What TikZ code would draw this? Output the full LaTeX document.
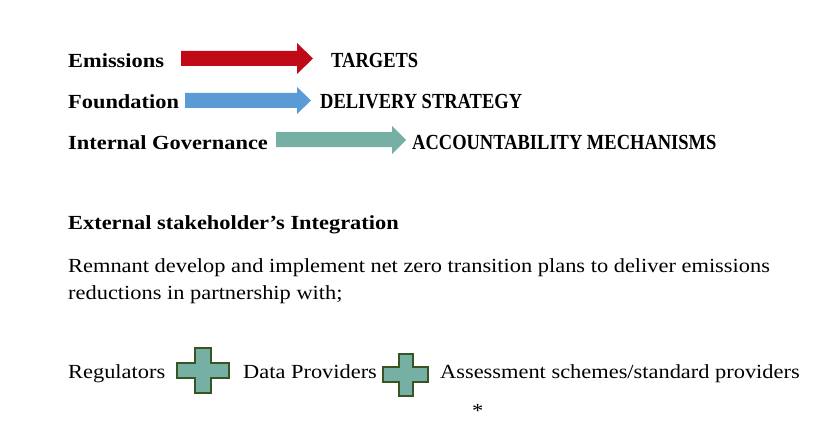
\documentclass[tikz,border=0pt]{standalone}
\usepackage{fontspec}
\setmainfont{Liberation Serif}[FakeStretch=1.12]
\newfontfamily\capsfont{Liberation Serif}[FakeStretch=0.86]
\definecolor{arred}{HTML}{C00A18}
\definecolor{arblue}{HTML}{5B9BD5}
\definecolor{arteal}{HTML}{76AFA4}
\definecolor{crossfill}{HTML}{76AFA4}
\definecolor{crossedge}{HTML}{375623}
\begin{document}
\begin{tikzpicture}[x=1pt,y=-1pt,
  lbl/.style={anchor=base west,inner sep=0pt,font=\fontsize{20}{24}\selectfont\bfseries},
  caps/.style={anchor=base west,inner sep=0pt,font=\fontsize{21.5}{24}\selectfont\capsfont\bfseries},
  txt/.style={anchor=base west,inner sep=0pt,font=\fontsize{20}{24}\selectfont},
  crossbox/.style={fill=crossfill,draw=crossedge,line width=1.6pt,line join=miter}]
\useasboundingbox (0,0) rectangle (836,444);
% row 1
\node[lbl] (em) at (68,68) {Emissions};
\fill[arred] (181,51) -- (297,51) -- (297,43) -- (313,58.5) -- (297,74) -- (297,66) -- (181,66) -- cycle;
\node[caps] (tg) at (331,68) {TARGETS};
% row 2
\node[lbl] (fd) at (68,108) {Foundation};
\fill[arblue] (185,93) -- (297,93) -- (297,87) -- (311,100.5) -- (297,114) -- (297,108) -- (185,108) -- cycle;
\node[caps] (ds) at (320,108) {DELIVERY STRATEGY};
% row 3
\node[lbl] (ig) at (68,149) {Internal Governance};
\fill[arteal] (276,132) -- (392,132) -- (392,126) -- (406,140) -- (392,154) -- (392,147) -- (276,147) -- cycle;
\node[caps] (am) at (412,149) {ACCOUNTABILITY MECHANISMS};
% section
\node[lbl] (ext) at (68,229) {External stakeholder’s Integration};
\node[txt] (p1) at (68,272) {Remnant develop and implement net zero transition plans to deliver emissions};
\node[txt] (p2) at (68,299) {reductions in partnership with;};
% bottom row
\node[txt] (reg) at (68,378) {Regulators};
\draw[crossbox] (195,348) -- (211,348) -- (211,363) -- (229,363) -- (229,378) -- (211,378) -- (211,393) -- (195,393) -- (195,378) -- (177,378) -- (177,363) -- (195,363) -- cycle;
\node[txt] (dp) at (243,378) {Data Providers};
\draw[crossbox] (399,354) -- (413,354) -- (413,367) -- (428,367) -- (428,382) -- (413,382) -- (413,396) -- (399,396) -- (399,382) -- (383,382) -- (383,367) -- (399,367) -- cycle;
\node[txt] (as) at (440,378) {Assessment schemes/standard providers};
\node[txt] (st) at (472,417) {*};
\end{tikzpicture}
\end{document}
